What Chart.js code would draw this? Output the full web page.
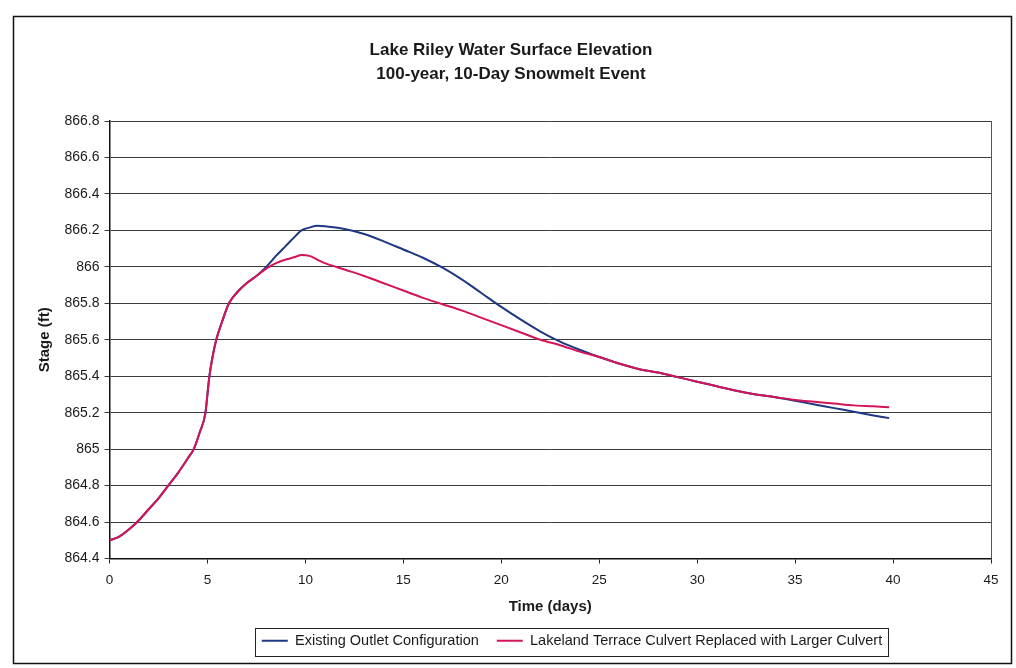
<!DOCTYPE html>
<html>
<head>
<meta charset="utf-8">
<title>Lake Riley Water Surface Elevation</title>
<script src="https://cdn.jsdelivr.net/npm/chart.js@4.4.0/dist/chart.umd.min.js"></script>
<style>
    html, body { margin: 0; padding: 0; background: #fff; }
    #wrap { width: 1016px; height: 668px; }
</style>
</head>
<body>
<div id="wrap"><canvas id="stageChart" width="1016" height="668"></canvas></div>
<script>
// Time in days since start of the snowmelt event
const days = [0, 0.5, 1, 1.5, 2, 2.5, 3, 3.5, 4, 4.3, 4.6, 4.9, 5.0, 5.1, 5.25, 5.45, 5.75, 6.1, 6.6, 7.0,
    7.5, 8.0, 8.5, 9.0, 9.5, 9.8, 10.2, 10.6, 11, 12, 13, 14, 15, 16, 17, 18, 19, 20, 21, 22, 23, 24,
    25, 26, 27, 28, 29, 30, 31, 32, 33, 34, 35, 36, 37, 38, 39, 39.8];

// Stage (ft) with the existing outlet
const existingStage = [864.50, 864.52, 864.56, 864.61, 864.67, 864.73, 864.80, 864.87, 864.95, 865.00,
    865.09, 865.20, 865.30, 865.40, 865.50, 865.60, 865.70, 865.80, 865.87, 865.91,
    865.95, 866.00, 866.06, 866.115, 866.17, 866.20, 866.215, 866.225, 866.222, 866.207, 866.18, 866.14,
    866.095, 866.05, 865.995, 865.93, 865.855, 865.78, 865.71, 865.645, 865.59, 865.545,
    865.505, 865.47, 865.44, 865.42, 865.395, 865.37, 865.345, 865.32, 865.30, 865.285,
    865.265, 865.245, 865.225, 865.205, 865.185, 865.17];

// Stage (ft) with the Lakeland Terrace culvert replaced
const lakelandStage = [864.50, 864.52, 864.56, 864.61, 864.67, 864.73, 864.80, 864.87, 864.95, 865.00,
    865.09, 865.20, 865.30, 865.40, 865.50, 865.60, 865.70, 865.80, 865.87, 865.91,
    865.95, 865.99, 866.02, 866.04, 866.055, 866.065, 866.06, 866.04, 866.02, 865.985, 865.95, 865.91,
    865.87, 865.83, 865.795, 865.76, 865.72, 865.68, 865.64, 865.60, 865.57, 865.535,
    865.505, 865.47, 865.44, 865.42, 865.395, 865.37, 865.345, 865.32, 865.30, 865.285,
    865.27, 865.26, 865.25, 865.24, 865.235, 865.23];

const seriesLabels = ['Existing Outlet Configuration', 'Lakeland Terrace Culvert Replaced with Larger Culvert'];
const titleLines = ['Lake Riley Water Surface Elevation', '100-year, 10-Day Snowmelt Event'];

const FONT = '"Liberation Sans", Arial, Helvetica, sans-serif';
const TEXT = '#1a1a1a';
const LEGEND_CENTER_X = 572;
const TITLE_SHIFT_X = 9;

function toPoints(values) {
    return values.map((v, i) => ({ x: days[i], y: v }));
}

// page frame, right edge of the plot area and the box round the legend
const framePlugin = {
    id: 'frame',
    afterUpdate(chart) {
        // title and legend sit a little right of the page centre
        const tb = chart.titleBlock;
        tb.left += TITLE_SHIFT_X;
        tb.right += TITLE_SHIFT_X;

        const lg = chart.legend;
        const boxes = lg.legendHitBoxes;
        if (!boxes || !boxes.length) return;
        const left = Math.min(...boxes.map(b => b.left));
        const right = Math.max(...boxes.map(b => b.left + b.width));
        const dx = LEGEND_CENTER_X - (left + right) / 2;
        boxes.forEach(b => { b.left += dx; });
        lg.left += dx;
        lg.right += dx;
    },
    beforeDraw(chart) {
        const ctx = chart.ctx;
        ctx.save();
        ctx.fillStyle = '#fff';
        ctx.fillRect(0, 0, chart.width, chart.height);
        ctx.restore();
    },
    afterDraw(chart) {
        const ctx = chart.ctx;
        const a = chart.chartArea;
        ctx.save();
        ctx.strokeStyle = '#555';
        ctx.lineWidth = 1;
        ctx.beginPath();
        ctx.moveTo(Math.round(a.right) + 0.5, a.top);
        ctx.lineTo(Math.round(a.right) + 0.5, a.bottom);
        ctx.stroke();

        ctx.strokeStyle = '#111';
        ctx.lineWidth = 1.5;
        ctx.strokeRect(13.5, 16.5, 998, 647);

        const boxes = chart.legend.legendHitBoxes;
        if (boxes && boxes.length) {
            const left = Math.min(...boxes.map(b => b.left)) - 7;
            const right = Math.max(...boxes.map(b => b.left + b.width)) + 6;
            const top = Math.min(...boxes.map(b => b.top)) - 6;
            const bottom = Math.max(...boxes.map(b => b.top + b.height)) + 7;
            ctx.strokeStyle = '#222';
            ctx.lineWidth = 1;
            ctx.strokeRect(Math.round(left) + 0.5, Math.round(top) + 0.5, Math.round(right - left), Math.round(bottom - top));
        }
        ctx.restore();
    }
};

const ctx = document.getElementById('stageChart').getContext('2d');
new Chart(ctx, {
    type: 'line',
    data: {
        datasets: [
            {
                label: seriesLabels[0],
                data: toPoints(existingStage),
                borderColor: '#1d3783',
                backgroundColor: '#1d3783',
                borderWidth: 2,
                pointRadius: 0,
                cubicInterpolationMode: 'monotone',
                order: 1
            },
            {
                label: seriesLabels[1],
                data: toPoints(lakelandStage),
                borderColor: '#d4145a',
                backgroundColor: '#d4145a',
                borderWidth: 2,
                pointRadius: 0,
                cubicInterpolationMode: 'monotone',
                // drawn over the blue line where they coincide
                order: 0
            }
        ]
    },
    options: {
        responsive: false,
        animation: false,
        layout: { padding: { left: 13, right: 25, top: 0, bottom: 10 } },
        plugins: {
            title: {
                display: true,
                text: titleLines,
                color: TEXT,
                font: { family: FONT, size: 17, weight: 'bold', lineHeight: 24 / 17 },
                padding: { top: 38, bottom: 35 }
            },
            legend: {
                position: 'bottom',
                labels: {
                    color: TEXT,
                    font: { family: FONT, size: 14.5 },
                    usePointStyle: true,
                    pointStyle: 'line',
                    pointStyleWidth: 26,
                    padding: 18,
                    sort: (a, b) => a.datasetIndex - b.datasetIndex
                }
            },
            tooltip: { enabled: false }
        },
        scales: {
            x: {
                type: 'linear',
                min: 0,
                max: 45,
                ticks: {
                    stepSize: 5,
                    color: TEXT,
                    padding: 9,
                    maxRotation: 0,
                    font: { family: FONT, size: 13.5 }
                },
                grid: { drawOnChartArea: false, drawTicks: true, tickLength: 5, color: '#222' },
                border: { color: '#111', width: 1.5 },
                title: {
                    display: true,
                    text: 'Time (days)',
                    color: TEXT,
                    font: { family: FONT, size: 15, weight: 'bold' },
                    padding: { top: 0, bottom: 0 }
                },
                afterFit(scale) { scale.height = 57; }
            },
            y: {
                min: 864.4,
                max: 866.8,
                ticks: {
                    stepSize: 0.2,
                    color: TEXT,
                    padding: 5,
                    font: { family: FONT, size: 14 },
                    callback: v => String(Math.round(v * 10) / 10)
                },
                grid: { color: '#3c3c3c', lineWidth: 1, tickLength: 5 },
                border: { color: '#111', width: 1.5 },
                title: {
                    display: true,
                    text: 'Stage (ft)',
                    color: TEXT,
                    font: { family: FONT, size: 15, weight: 'bold' },
                    padding: { top: 23, bottom: 0 }
                },
                afterFit(scale) { scale.width = 96.5; }
            }
        }
    },
    plugins: [framePlugin]
});
</script>
</body>
</html>
